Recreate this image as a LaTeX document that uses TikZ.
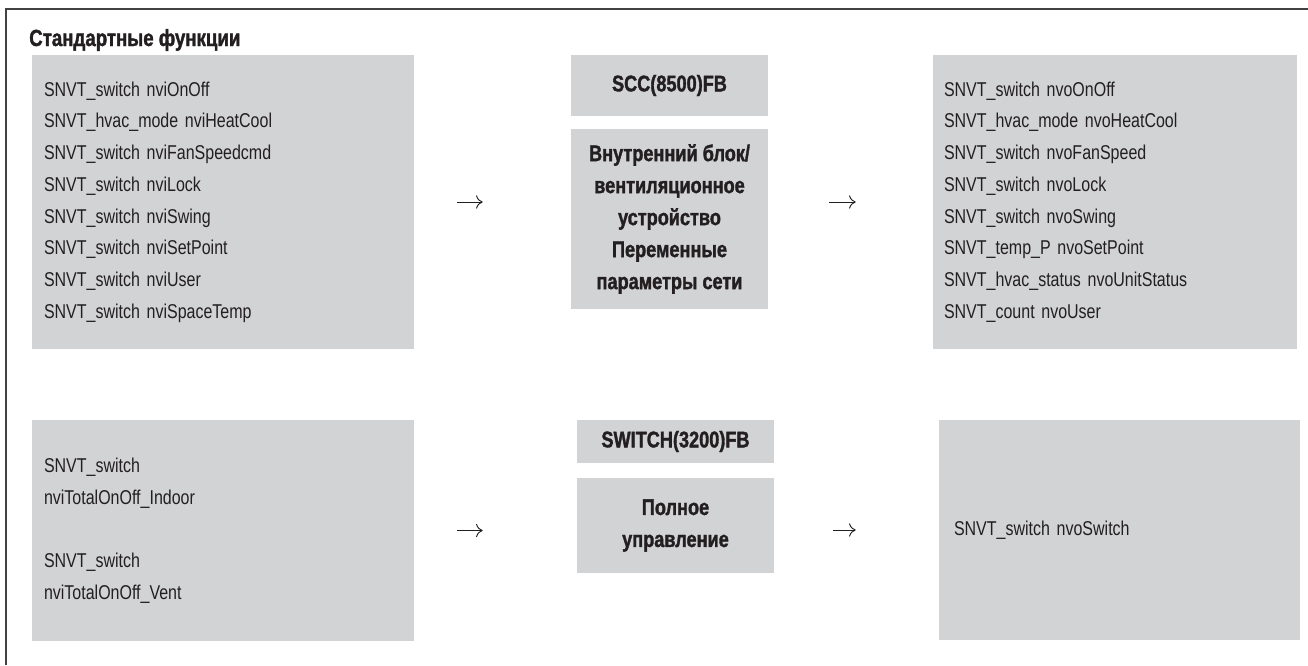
\documentclass[tikz,border=0pt]{standalone}
\usepackage{fontspec}
\setmainfont[FakeStretch=0.8]{Liberation Sans}
\newfontfamily\headfont[FakeStretch=0.8, BoldFeatures={FakeBold=1.5}]{Liberation Sans}
\usetikzlibrary{arrows.meta}
\definecolor{boxgray}{RGB}{210,211,213}
\definecolor{ink}{RGB}{35,31,32}
\begin{document}
\begin{tikzpicture}[x=0.75pt, y=-0.75pt, every node/.style={text=ink},
  panel/.style={fill=boxgray, inner ysep=0pt},
  listbox/.style={panel, align=left, inner xsep=9pt, font=\fontsize{15}{23.8}\selectfont},
  headbox/.style={panel, align=center, inner xsep=0pt, minimum width=147.75pt, font=\headfont\bfseries\fontsize{17}{24}\selectfont},
  flow/.style={-{To[length=5pt, width=10pt]}, line width=0.7pt, draw=ink}]
  \useasboundingbox (0,0) rectangle (1308,665);
  % frame
  \draw[line width=0.9pt, draw=ink!85] (6,665) -- (6,9) -- (1308,9);
  \node[anchor=base west, inner xsep=0pt, font=\headfont\bfseries\fontsize{17.5}{20}\selectfont] (title) at (29,46) {Стандартные функции};

  % upper row
  \node[listbox, text width=268.5pt, minimum height=220.5pt] (inA) at (223,202) {SNVT\_switch nviOnOff\\SNVT\_hvac\_mode nviHeatCool\\SNVT\_switch nviFanSpeedcmd\\SNVT\_switch nviLock\\SNVT\_switch nviSwing\\SNVT\_switch nviSetPoint\\SNVT\_switch nviUser\\SNVT\_switch nviSpaceTemp};
  \node[headbox, minimum height=45.75pt] (sccA) at (669.5,85.5) {SCC(8500)FB};
  \node[headbox, minimum height=135pt] (fbA) at (669.5,219) {Внутренний блок/\\вентиляционное\\устройство\\Переменные\\параметры сети};
  \node[listbox, inner xsep=8.25pt, text width=256.5pt, minimum height=220.5pt] (outA) at (1115,202) {SNVT\_switch nvoOnOff\\SNVT\_hvac\_mode nvoHeatCool\\SNVT\_switch nvoFanSpeed\\SNVT\_switch nvoLock\\SNVT\_switch nvoSwing\\SNVT\_temp\_P nvoSetPoint\\SNVT\_hvac\_status nvoUnitStatus\\SNVT\_count nvoUser};
  \draw[flow, shorten <=32.25pt, shorten >=66pt] (inA.east) -- (inA.east -| fbA.west);
  \draw[flow, shorten <=45.75pt, shorten >=57.75pt] (fbA.east |- outA.west) -- (outA.west);

  % lower row
  \node[listbox, text width=268.5pt, minimum height=165.75pt] (inB) at (223,530.5) {SNVT\_switch\\nviTotalOnOff\_Indoor\\[23.8pt]SNVT\_switch\\nviTotalOnOff\_Vent};
  \node[headbox, minimum height=32.25pt] (swB) at (675.5,441.5) {SWITCH(3200)FB};
  \node[headbox, minimum height=71.25pt] (fbB) at (675.5,525.5) {Полное\\управление};
  \node[listbox, inner xsep=11.25pt, text width=248.25pt, minimum height=165pt] (outB) at (1119.5,530) {SNVT\_switch nvoSwitch};
  \draw[flow, shorten <=32.25pt, shorten >=70.5pt] (inB.east) -- (inB.east -| fbB.west);
  \draw[flow, shorten <=44.25pt, shorten >=62.25pt] (fbB.east |- outB.west) -- (outB.west);
\end{tikzpicture}
\end{document}
